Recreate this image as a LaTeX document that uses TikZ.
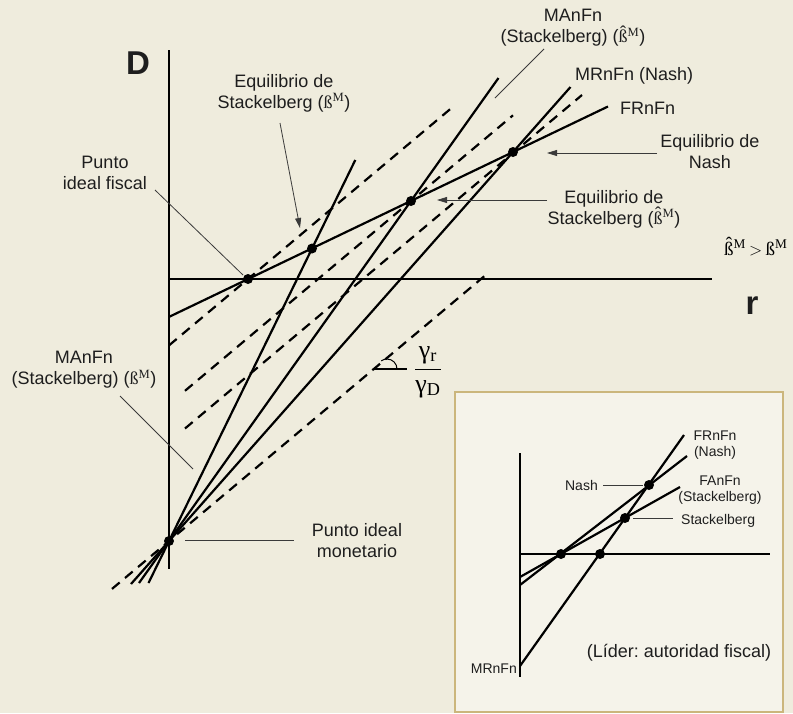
\documentclass[tikz,border=0pt]{standalone}
\usepackage{fontspec}
\setmainfont{Liberation Sans}
\newfontfamily\serif{Liberation Serif}
\usetikzlibrary{arrows.meta,positioning,calc}
\frenchspacing

\definecolor{paper}{HTML}{EFECDD}
\definecolor{insetbg}{HTML}{F5F3EA}
\definecolor{insetrule}{HTML}{CBB67C}
\definecolor{leadc}{HTML}{3A3A3A}
\definecolor{inkc}{HTML}{1E1E1E}

\newcommand{\bM}{{\serif ß\textsuperscript{M}}}
\newcommand{\hatss}{\ooalign{ß\cr\hidewidth\raisebox{0.24em}{ˆ}\hidewidth\cr}}
\newcommand{\bhM}{{\serif\hatss\textsuperscript{M}}}

\begin{document}
\begin{tikzpicture}[x=1pt, y=-1pt,
  curve/.style={line width=2.2pt},
  iso/.style={line width=2.2pt, dash pattern=on 10pt off 7pt},
  axis/.style={line width=2.4pt},
  lead/.style={line width=0.8pt, draw=leadc},
  arr/.style={lead, -{Triangle[length=10pt,width=6pt]}},
  lbl/.style={inner sep=0pt, align=center, font=\fontsize{18}{21}\selectfont, text=inkc},
  small/.style={inner sep=0pt, align=center, font=\fontsize{14}{16}\selectfont, text=inkc},
  big/.style={inner sep=0pt, font=\fontsize{33}{33}\selectfont\bfseries, text=inkc},
  dot/.style={circle, fill=black, inner sep=0pt, minimum size=10pt}
]
\fill[paper] (0,0) rectangle (793,713);
\useasboundingbox (0,0) rectangle (793,713);

% main graph: axes
\coordinate (Dtop) at (169,50);
\coordinate (Dbot) at (169,569);
\coordinate (O) at (169,279);
\coordinate (Rend) at (712,279);
\draw[axis] (Dtop) -- (Dbot);
\draw[axis] (O) -- (Rend);
\node[big] (Dlab) at (138,63) {D};
\node[big] (rlab) at (752,306) {r};

% equilibrium points
\coordinate (Pf) at (248,279);
\coordinate (Pm) at (169,541);
\coordinate (Sb) at (312,248.5);
\coordinate (Sh) at (411,201);
\coordinate (Ne) at (513,152);

% reaction / best-response lines
\coordinate (fr0) at (169,316.9);
\coordinate (fr1) at (608,106.5);
\coordinate (ma0) at (148.5,583);
\coordinate (ma1) at (355.3,160);
\coordinate (mh0) at (139,583);
\coordinate (mh1) at (498.5,78);
\coordinate (mr0) at (131,584);
\coordinate (mr1) at (570.5,87);
\draw[curve] (fr0) -- (fr1);
\draw[curve] (ma0) -- (ma1);
\draw[curve] (mh0) -- (mh1);
\draw[curve] (mr0) -- (mr1);

% iso-loss lines, slope gamma_r/gamma_D
\coordinate (is0) at (169,345.4);
\coordinate (is1) at (452,107.6);
\coordinate (ih0) at (185,390.8);
\coordinate (ih1) at (513,115.3);
\coordinate (in0) at (185,428.5);
\coordinate (in1) at (582,95.0);
\coordinate (im0) at (112,588.9);
\coordinate (im1) at (485,275.6);
\draw[iso] (is0) -- (is1);
\draw[iso] (ih0) -- (ih1);
\draw[iso] (in0) -- (in1);
\draw[iso] (im0) -- (im1);

\foreach \p in {Pf,Pm,Sb,Sh,Ne}
  \node[dot] (d\p) at (\p) {};

% slope marker
\coordinate (V) at (373.8,369);
\coordinate (Vr) at (407,369);
\coordinate (Vc) at (387,369);
\draw[line width=1.4pt] (V) -- (Vr);
\draw[line width=1pt] (Vc) ++(10,0) arc[start angle=0, end angle=-125, radius=10];
\node[inner sep=0pt, font=\fontsize{26}{30}\selectfont] (slope) at (428,372)
  {$\displaystyle\frac{\mbox{\serif γ\textsubscript{r}}}{\mbox{\serif γ\textsubscript{D}}}$};

% labels and leaders
\node[lbl] (lSb) at (284,93) {Equilibrio de\\Stackelberg (\bM)};
\coordinate (aSb0) at (280,123);
\coordinate (aSb1) at (300,228);
\draw[arr] (aSb0) -- (aSb1);

\node[lbl] (lPf) at (105,173) {Punto\\ideal fiscal};
\coordinate (aPf0) at (155,190);
\coordinate (aPf1) at (243,275);
\draw[lead] (aPf0) -- (aPf1);

\node[lbl] (lMAl) at (84,370) {MAnFn\\(Stackelberg) (\bM)};
\coordinate (aMa0) at (120,396);
\coordinate (aMa1) at (193,469);
\draw[lead] (aMa0) -- (aMa1);

\node[lbl] (lMAt) at (573,28) {MAnFn\\(Stackelberg) (\bhM)};
\coordinate (aMh0) at (544,49);
\coordinate (aMh1) at (495,98);
\draw[lead] (aMh0) -- (aMh1);

\node[lbl, anchor=west] (lMR) at (575,76) {MRnFn (Nash)};
\node[lbl, anchor=west] (lFR) at (620,108) {FRnFn};

\node[lbl] (lNe) at (710,152) {Equilibrio de\\Nash};
\coordinate (aNe0) at (657,153);
\coordinate (aNe1) at (547,153);
\draw[arr] (aNe0) -- (aNe1);

\node[lbl] (lSh) at (614,209) {Equilibrio de\\Stackelberg (\bhM)};
\coordinate (aSh0) at (547,200);
\coordinate (aSh1) at (437,200);
\draw[arr] (aSh0) -- (aSh1);

\node[lbl] (lPm) at (357,541) {Punto ideal\\monetario};
\coordinate (aPm0) at (185,540);
\coordinate (aPm1) at (294,540);
\draw[lead] (aPm0) -- (aPm1);

\node[inner sep=0pt, anchor=west, font=\fontsize{19}{22}\selectfont] (ineq) at (724,248)
  {\bhM\,{\serif $>$}\,\bM};

% inset: fiscal leader
\draw[draw=insetrule, fill=insetbg, line width=1.2pt] (455,392) rectangle (783,712);
\coordinate (iTop) at (520,453);
\coordinate (iBot) at (520,677);
\coordinate (iO) at (520,554);
\coordinate (iRend) at (770,554);
\draw[axis] (iTop) -- (iBot);
\draw[axis] (iO) -- (iRend);

\coordinate (iA) at (561,554);
\coordinate (iB) at (600,554);
\coordinate (iN) at (649,485);
\coordinate (iS) at (625,518);
\coordinate (imr0) at (520,666);
\coordinate (imr1) at (684,435);
\coordinate (ifr0) at (520,585);
\coordinate (ifr1) at (687,456);
\coordinate (ifa0) at (520,577);
\coordinate (ifa1) at (680,487);
\draw[curve] (imr0) -- (imr1);
\draw[curve] (ifr0) -- (ifr1);
\draw[curve] (ifa0) -- (ifa1);
\foreach \p in {iA,iB,iN,iS}
  \node[dot] (d\p) at (\p) {};

\node[small] (lifr) at (715,445) {FRnFn\\(Nash)};
\node[small] (lifa) at (720,490) {FAnFn\\(Stackelberg)};
\node[small, anchor=east] (liN) at (598,485) {Nash};
\coordinate (aiN0) at (603,485);
\coordinate (aiN1) at (643,485);
\draw[lead] (aiN0) -- (aiN1);
\node[small, anchor=west] (liS) at (681,521) {Stackelberg};
\coordinate (aiS0) at (633,518);
\coordinate (aiS1) at (673,518);
\draw[lead] (aiS0) -- (aiS1);
\node[small, anchor=east] (limr) at (517,669) {MRnFn};
\node[lbl] (lider) at (679,653) {(Líder: autoridad fiscal)};

\end{tikzpicture}
\end{document}
